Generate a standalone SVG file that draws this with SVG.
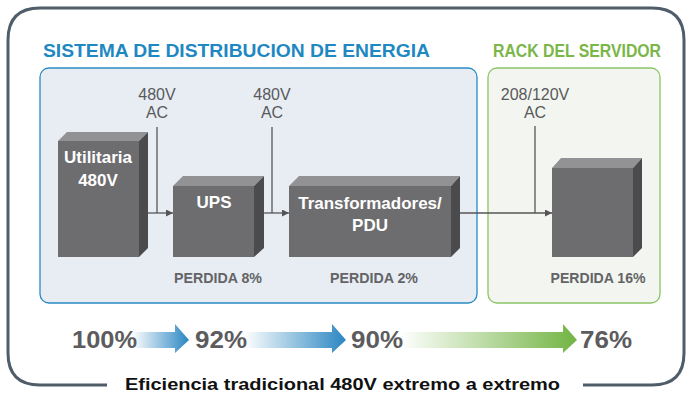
<svg xmlns="http://www.w3.org/2000/svg" width="686" height="393" viewBox="0 0 686 393">
<defs>
<style>
.frame{fill:none;stroke:#4f5d6a;stroke-width:3}
.title{font-family:"Liberation Sans",Arial,sans-serif;font-weight:bold;font-size:18px}
.volt{font-family:"Liberation Sans",Arial,sans-serif;font-size:16px;fill:#58595b;text-anchor:middle}
.box{font-family:"Liberation Sans",Arial,sans-serif;font-weight:bold;font-size:17px;fill:#ffffff;text-anchor:middle}
.loss{font-family:"Liberation Sans",Arial,sans-serif;font-weight:bold;font-size:14px;fill:#646466;text-anchor:middle}
.pct{font-family:"Liberation Sans",Arial,sans-serif;font-weight:bold;font-size:23px;fill:#5c5c5e}
.front{fill:#6d6d6f}
.top{fill:#929294}
.side{fill:#4b4b4d}
.conn{fill:none;stroke:#555557;stroke-width:1.3}
</style>
<marker id="ah" viewBox="0 0 10 10" refX="10" refY="5" markerWidth="7" markerHeight="7" markerUnits="userSpaceOnUse" orient="auto">
<path d="M0,0 L10,5 L0,10 z" fill="#555557"/>
</marker>
<linearGradient id="gb" x1="0" x2="1" y1="0" y2="0">
<stop offset="0" stop-color="#ffffff"/>
<stop offset="1" stop-color="#2a86c2"/>
</linearGradient>
<linearGradient id="gg" x1="0" x2="1" y1="0" y2="0">
<stop offset="0" stop-color="#ffffff"/>
<stop offset="1" stop-color="#72b443"/>
</linearGradient>
</defs>

<path class="frame" d="M107,385 L40,385 Q8,385 8,353 L8,40 Q8,8 40,8 L652,8 Q684,8 684,40 L684,353 Q684,385 652,385 L583,385"/>

<g id="dist-panel">
<rect x="40" y="68" width="437" height="235" rx="9" fill="#e8edf4" stroke="#2a8ac4" stroke-width="1.3"/>
<text class="title" x="43" y="57" fill="#1f88c2" textLength="387" lengthAdjust="spacingAndGlyphs">SISTEMA DE DISTRIBUCION DE ENERGIA</text>
</g>

<g id="rack-panel">
<rect x="488" y="68" width="172" height="235" rx="9" fill="#f3f6f0" stroke="#8cc465" stroke-width="1.3"/>
<text class="title" x="493" y="57" fill="#7ab648" textLength="168" lengthAdjust="spacingAndGlyphs">RACK DEL SERVIDOR</text>
</g>

<g id="connectors">
<polyline class="conn" points="157,127 157,213"/>
<line class="conn" x1="148" y1="213" x2="173" y2="213" marker-end="url(#ah)"/>
<polyline class="conn" points="272,127 272,213"/>
<line class="conn" x1="264" y1="213" x2="289" y2="213" marker-end="url(#ah)"/>
<polyline class="conn" points="535,126 535,213"/>
<line class="conn" x1="460" y1="213" x2="552" y2="213" marker-end="url(#ah)"/>
</g>

<g id="v1">
<text class="volt" x="157" y="100">480V</text>
<text class="volt" x="157" y="118">AC</text>
</g>
<g id="v2">
<text class="volt" x="272" y="100">480V</text>
<text class="volt" x="272" y="118">AC</text>
</g>
<g id="v3">
<text class="volt" x="535" y="100">208/120V</text>
<text class="volt" x="535" y="118">AC</text>
</g>

<g id="utilitaria">
<polygon class="top" points="58,141 67,132 148,132 139,141"/>
<polygon class="side" points="139,141 148,132 148,248 139,257"/>
<rect class="front" x="58" y="141" width="81" height="116"/>
<text class="box" x="98" y="163">Utilitaria</text>
<text class="box" x="98" y="186">480V</text>
</g>

<g id="ups">
<polygon class="top" points="173,186 183,176 264,176 254,186"/>
<polygon class="side" points="254,186 264,176 264,248 254,257"/>
<rect class="front" x="173" y="186" width="81" height="71"/>
<text class="box" x="214" y="208">UPS</text>
<text class="loss" x="218" y="283" textLength="88" lengthAdjust="spacingAndGlyphs">PERDIDA 8%</text>
</g>

<g id="transformadores">
<polygon class="top" points="289,186 299,176 460,176 451,186"/>
<polygon class="side" points="451,186 460,176 460,248 451,257"/>
<rect class="front" x="289" y="186" width="162" height="71"/>
<text class="box" x="370" y="209">Transformadores/</text>
<text class="box" x="370" y="231">PDU</text>
<text class="loss" x="374" y="283" textLength="88" lengthAdjust="spacingAndGlyphs">PERDIDA 2%</text>
</g>

<g id="servidor">
<polygon class="top" points="552,168 561,158 642,158 633,168"/>
<polygon class="side" points="633,168 642,158 642,248 633,257"/>
<rect class="front" x="552" y="168" width="81" height="89"/>
<text class="loss" x="598" y="283" textLength="95" lengthAdjust="spacingAndGlyphs">PERDIDA 16%</text>
</g>

<g id="flow">
<polygon fill="url(#gb)" points="132,332 175,332 175,324 189,340 175,353 175,348 132,348"/>
<polygon fill="url(#gb)" points="244,332 332,332 332,324 346,340 332,353 332,348 244,348"/>
<polygon fill="url(#gg)" points="400,332 563,332 563,324 577,340 563,353 563,348 400,348"/>
<text class="pct" x="72" y="348" textLength="65" lengthAdjust="spacingAndGlyphs">100%</text>
<text class="pct" x="195" y="348" textLength="52" lengthAdjust="spacingAndGlyphs">92%</text>
<text class="pct" x="351" y="348" textLength="52" lengthAdjust="spacingAndGlyphs">90%</text>
<text class="pct" x="580" y="348" textLength="52" lengthAdjust="spacingAndGlyphs">76%</text>
</g>

<text x="125" y="390" font-family="Liberation Sans, Arial, sans-serif" font-weight="bold" font-size="17" fill="#111111" textLength="435" lengthAdjust="spacingAndGlyphs">Eficiencia tradicional 480V extremo a extremo</text>
</svg>
